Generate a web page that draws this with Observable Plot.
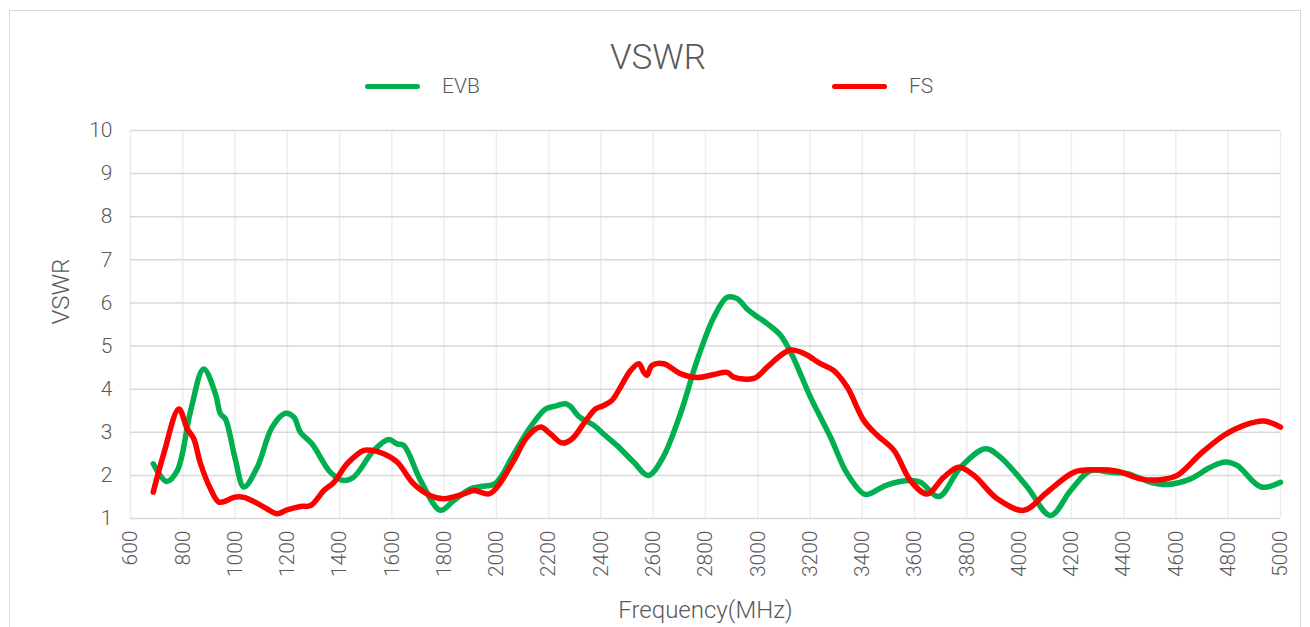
<!DOCTYPE html>
<html>
<head>
<meta charset="utf-8">
<script src="https://cdn.jsdelivr.net/npm/d3@7"></script>
<script src="https://cdn.jsdelivr.net/npm/@observablehq/plot@0.6"></script>
<style>
  html, body { margin: 0; padding: 0; background: #fff; width: 1310px; height: 627px; overflow: hidden; }
  body { font-family: Roboto, "Noto Sans", sans-serif; color: #595959; position: relative; }
  #frame { position: absolute; left: 9px; top: 10px; width: 1292px; height: 640px; border: 1px solid #d9d9d9; box-sizing: border-box; }
  #header { position: absolute; left: 0; top: 0; width: 1310px; height: 110px; }
  #title { position: absolute; left: 0; width: 1316px; top: 40px; text-align: center; font-size: 35px; font-weight: 300; line-height: 1; }
  .leg { position: absolute; top: 76px; font-size: 21px; font-weight: 300; line-height: 20px; display: flex; align-items: center; }
  .sw { display: inline-block; width: 55px; height: 5px; border-radius: 3px; margin-right: 22px; }
  #chart { position: absolute; left: 0; top: 110px; }
</style>
</head>
<body>
<div id="frame"></div>
<div id="header">
  <div id="title">VSWR</div>
  <div class="leg" style="left:365px"><span class="sw" style="background:#00b050"></span>EVB</div>
  <div class="leg" style="left:832px"><span class="sw" style="background:#ff0000"></span>FS</div>
</div>
<div id="chart"></div>
<script>
const seriesNames = ["EVB", "FS"];
const seriesColors = ["#00b050", "#ff0000"];
const xTicks = d3.range(600, 5001, 200);
const yTicks = d3.range(1, 11, 1);

const evbFreq = [687, 738, 779, 830, 880, 925, 944, 963, 1000, 1034, 1085, 1142, 1193, 1225, 1250, 1295, 1365, 1416, 1454, 1531, 1588, 1620, 1646, 1710, 1786, 1837, 1901, 1939, 1997, 2067, 2130, 2188, 2220, 2264, 2283, 2315, 2373, 2410, 2462, 2525, 2581, 2634, 2704, 2768, 2832, 2883, 2921, 2959, 2991, 3036, 3087, 3132, 3202, 3278, 3342, 3406, 3427, 3491, 3584, 3623, 3693, 3776, 3871, 3929, 4031, 4120, 4197, 4273, 4350, 4414, 4503, 4567, 4656, 4732, 4790, 4834, 4926, 5000];
const evbVswr = [2.27, 1.86, 2.11, 3.5, 4.47, 3.89, 3.43, 3.31, 2.4, 1.73, 2.19, 3.12, 3.44, 3.35, 3.0, 2.73, 2.07, 1.88, 1.96, 2.58, 2.83, 2.73, 2.69, 1.88, 1.19, 1.42, 1.69, 1.74, 1.82, 2.5, 3.12, 3.54, 3.6, 3.66, 3.6, 3.37, 3.16, 2.96, 2.69, 2.31, 2.0, 2.38, 3.43, 4.67, 5.67, 6.13, 6.1, 5.86, 5.71, 5.52, 5.25, 4.78, 3.81, 2.89, 2.04, 1.57, 1.57, 1.77, 1.88, 1.84, 1.51, 2.19, 2.62, 2.42, 1.73, 1.07, 1.65, 2.11, 2.07, 2.04, 1.84, 1.79, 1.92, 2.19, 2.31, 2.23, 1.73, 1.84];

const fsFreq = [687, 727, 785, 817, 842, 868, 906, 938, 970, 995, 1034, 1085, 1123, 1161, 1199, 1250, 1289, 1340, 1378, 1429, 1493, 1524, 1569, 1620, 1684, 1748, 1799, 1875, 1914, 1971, 2003, 2067, 2118, 2169, 2207, 2252, 2290, 2334, 2379, 2410, 2442, 2475, 2513, 2545, 2564, 2576, 2595, 2640, 2704, 2768, 2832, 2883, 2908, 2985, 3036, 3087, 3125, 3176, 3240, 3291, 3342, 3406, 3457, 3521, 3584, 3648, 3712, 3769, 3827, 3916, 4018, 4107, 4209, 4286, 4375, 4464, 4541, 4605, 4694, 4784, 4860, 4937, 5000];
const fsVswr = [1.61, 2.5, 3.54, 3.08, 2.85, 2.27, 1.69, 1.38, 1.42, 1.49, 1.49, 1.35, 1.22, 1.11, 1.2, 1.28, 1.30, 1.65, 1.84, 2.27, 2.58, 2.58, 2.5, 2.31, 1.80, 1.53, 1.46, 1.57, 1.65, 1.57, 1.73, 2.35, 2.89, 3.12, 2.96, 2.75, 2.85, 3.2, 3.54, 3.62, 3.74, 4.05, 4.43, 4.59, 4.39, 4.32, 4.55, 4.59, 4.36, 4.27, 4.34, 4.39, 4.28, 4.25, 4.51, 4.78, 4.91, 4.83, 4.59, 4.43, 4.05, 3.27, 2.93, 2.58, 1.88, 1.57, 1.96, 2.19, 2.0, 1.46, 1.19, 1.61, 2.07, 2.13, 2.10, 1.92, 1.90, 2.0, 2.5, 2.93, 3.16, 3.26, 3.12];

const rows = [
  ...evbFreq.map((f, i) => ({series: seriesNames[0], f, v: evbVswr[i]})),
  ...fsFreq.map((f, i) => ({series: seriesNames[1], f, v: fsVswr[i]}))
];

const font = 'Roboto, "Noto Sans", sans-serif';

const chart = Plot.plot({
  width: 1310,
  height: 517,
  marginTop: 20,
  marginBottom: 109,
  marginLeft: 130,
  marginRight: 30,
  style: {fontFamily: font, fontSize: "21px", color: "#595959", background: "transparent", overflow: "visible"},
  x: {domain: [600, 5000], ticks: xTicks},
  y: {domain: [1, 10], ticks: yTicks},
  color: {domain: seriesNames, range: seriesColors},
  marks: [
    Plot.ruleX(xTicks, {stroke: "#ededed", strokeWidth: 1.5}),
    Plot.ruleY(yTicks, {stroke: "#d9d9d9", strokeWidth: 1.5}),
    Plot.axisX({ticks: xTicks, tickFormat: d => String(d), tickSize: 0, tickPadding: 12, tickRotate: -90, textAnchor: "end", fill: "#595959", fontSize: 21, fontWeight: 300, label: null}),
    Plot.axisY({ticks: yTicks, tickSize: 0, tickPadding: 18, fill: "#595959", fontSize: 21, fontWeight: 300, label: null}),
    Plot.text(["Frequency(MHz)"], {frameAnchor: "bottom", dy: 99, fontSize: 24, fontWeight: 300, fill: "#595959"}),
    Plot.text(["VSWR"], {frameAnchor: "left", dx: -69, rotate: -90, fontSize: 24, fontWeight: 300, fill: "#595959"}),
    Plot.line(rows, {x: "f", y: "v", z: "series", stroke: "series", strokeWidth: 5.5, curve: "catmull-rom", strokeLinecap: "round", strokeLinejoin: "round"})
  ]
});
document.getElementById("chart").appendChild(chart);
</script>
</body>
</html>
